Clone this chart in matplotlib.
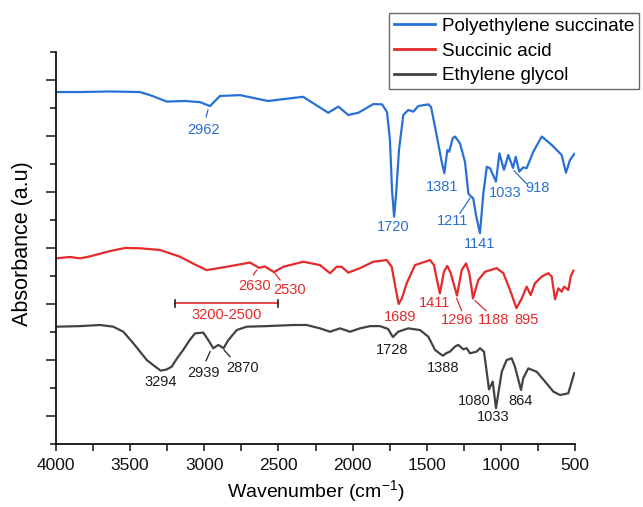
import matplotlib
matplotlib.use("Agg")
import matplotlib.pyplot as plt
import numpy as np
from matplotlib.ticker import MultipleLocator

plt.rcParams["font.family"] = ["Liberation Sans", "DejaVu Sans"]
plt.rcParams["mathtext.fontset"] = "custom"
plt.rcParams["mathtext.rm"] = "Liberation Sans"
plt.rcParams["mathtext.default"] = "regular"

# ---------------- FTIR spectra (wavenumber, absorbance a.u.) ----------------
pes_wn = [4000, 3838, 3636, 3434, 3366, 3253, 3130, 3029, 2962, 2894, 2759, 2570,
          2334, 2164, 2096, 2029, 1961, 1860, 1801, 1768, 1748, 1734, 1720, 1707,
          1687, 1658, 1624, 1590, 1557, 1489, 1471, 1444, 1399, 1381, 1361, 1348,
          1325, 1309, 1276, 1242, 1219, 1211, 1186, 1168, 1141, 1118, 1095, 1073,
          1033, 1010, 979, 950, 918, 900, 876, 849, 826, 781, 724, 657, 612, 590,
          561, 534, 505]
pes_abs = [1.257, 1.257, 1.259, 1.257, 1.246, 1.223, 1.225, 1.221, 1.207, 1.243,
           1.246, 1.225, 1.240, 1.183, 1.205, 1.175, 1.183, 1.214, 1.213, 1.186,
           1.086, 0.907, 0.812, 0.889, 1.050, 1.175, 1.193, 1.187, 1.207, 1.213,
           1.204, 1.133, 1.008, 0.967, 1.050, 1.044, 1.092, 1.098, 1.074, 1.008,
           0.895, 0.889, 0.877, 0.818, 0.753, 0.895, 0.990, 0.985, 0.937, 1.038,
           0.979, 1.032, 0.986, 1.026, 0.973, 0.988, 0.985, 1.044, 1.098, 1.068,
           1.044, 1.032, 0.969, 1.014, 1.036]

sa_wn = [4000, 3906, 3838, 3771, 3636, 3535, 3434, 3299, 3164, 3070, 2984, 2849,
         2692, 2630, 2591, 2530, 2467, 2332, 2220, 2152, 2107, 2073, 2029, 1950,
         1860, 1770, 1736, 1714, 1689, 1667, 1635, 1579, 1478, 1451, 1431, 1411,
         1384, 1361, 1338, 1316, 1296, 1264, 1235, 1213, 1201, 1188, 1152, 1107,
         1028, 983, 938, 895, 859, 826, 799, 770, 724, 680, 657, 635, 612, 590,
         574, 545, 529, 511]
sa_abs = [0.663, 0.668, 0.663, 0.670, 0.689, 0.700, 0.699, 0.693, 0.669, 0.643,
          0.621, 0.633, 0.648, 0.629, 0.634, 0.614, 0.633, 0.651, 0.639, 0.610,
          0.633, 0.633, 0.612, 0.628, 0.651, 0.657, 0.633, 0.568, 0.500, 0.521,
          0.574, 0.639, 0.657, 0.639, 0.586, 0.538, 0.615, 0.636, 0.610, 0.568,
          0.530, 0.621, 0.645, 0.610, 0.568, 0.520, 0.586, 0.615, 0.628, 0.610,
          0.550, 0.485, 0.520, 0.562, 0.532, 0.574, 0.598, 0.610, 0.598, 0.517,
          0.556, 0.544, 0.562, 0.550, 0.598, 0.619]

eg_wn = [4000, 3838, 3703, 3614, 3546, 3479, 3388, 3340, 3294, 3255, 3220, 3185,
         3142, 3100, 3063, 3007, 2973, 2939, 2905, 2870, 2838, 2781, 2714, 2579,
         2400, 2309, 2220, 2152, 2085, 2017, 1950, 1882, 1815, 1761, 1728, 1692,
         1624, 1545, 1489, 1444, 1399, 1388, 1370, 1343, 1309, 1287, 1253, 1230,
         1208, 1163, 1141, 1114, 1100, 1080, 1055, 1033, 1017, 994, 961, 927, 905,
         864, 849, 815, 758, 702, 646, 601, 545, 522, 505]
eg_abs = [0.419, 0.421, 0.425, 0.419, 0.401, 0.360, 0.300, 0.280, 0.262, 0.266,
          0.276, 0.305, 0.336, 0.370, 0.395, 0.398, 0.371, 0.342, 0.354, 0.342,
          0.371, 0.407, 0.419, 0.421, 0.425, 0.425, 0.413, 0.401, 0.413, 0.401,
          0.413, 0.421, 0.421, 0.411, 0.382, 0.401, 0.413, 0.407, 0.383, 0.336,
          0.318, 0.316, 0.324, 0.330, 0.348, 0.354, 0.338, 0.342, 0.324, 0.330,
          0.342, 0.330, 0.276, 0.195, 0.223, 0.128, 0.181, 0.258, 0.300, 0.306,
          0.276, 0.193, 0.235, 0.270, 0.258, 0.223, 0.187, 0.175, 0.181, 0.223,
          0.253]

series_names = ["Polyethylene succinate", "Succinic acid", "Ethylene glycol"]
line_colors = ["#2870D6", "#E42A2A", "#434343"]
text_colors = ["#2A6FD0", "#E42A2A", "#1E1E1E"]

# Peak labels: (text, x, y)
pes_labels = [("2962", 3007, 1.121), ("1720", 1725, 0.776), ("1381", 1399, 0.917),
              ("1211", 1327, 0.798), ("1141", 1141, 0.714), ("1033", 972, 0.898),
              ("918", 751, 0.913)]
sa_labels = [("2630", 2663, 0.564), ("2530", 2422, 0.550), ("1689", 1680, 0.4525),
             ("1411", 1444, 0.5025), ("1296", 1294, 0.443), ("1188", 1051, 0.443),
             ("895", 826, 0.443)]
eg_labels = [("3294", 3294, 0.2225), ("2939", 3002, 0.255), ("2870", 2741, 0.270),
             ("1728", 1736, 0.336), ("1388", 1388, 0.270), ("1080", 1181, 0.155),
             ("1033", 1051, 0.095), ("864", 866, 0.155)]

# Leader lines: ((x0, y0), (x1, y1))
pes_leaders = [((2975, 1.193), (2988, 1.168)), ((1276, 0.824), (1208, 0.878)),
               ((911, 0.976), (830, 0.931))]
sa_leaders = [((2647, 0.621), (2669, 0.604)), ((2523, 0.610), (2489, 0.586)),
              ((1298, 0.520), (1264, 0.476)), ((1174, 0.512), (1100, 0.476))]
eg_leaders = [((2961, 0.330), (2988, 0.2975)), ((2867, 0.336), (2827, 0.312))]

# O-H stretch range of the acid
range_start, range_end, range_y = 3200, 2500, 0.502

# ---------------- figure ----------------
fig = plt.figure(figsize=(6.43, 5.07), dpi=100)
ax = fig.add_axes([56 / 643, 63 / 507, 519 / 643, 392 / 507])

spectra = [(pes_wn, pes_abs), (sa_wn, sa_abs), (eg_wn, eg_abs)]
for (wn, ab), name, col in zip(spectra, series_names, line_colors):
    ax.plot(wn, ab, color=col, lw=1.6, label=name, solid_joinstyle="round")

fs_ann = 10.5
for labels, leaders, col in [(pes_labels, pes_leaders, text_colors[0]),
                             (sa_labels, sa_leaders, text_colors[1]),
                             (eg_labels, eg_leaders, text_colors[2])]:
    for t, x, y in labels:
        ax.text(x, y, t, color=col, fontsize=fs_ann, ha="center", va="center")
    for (x0, y0), (x1, y1) in leaders:
        ax.plot([x0, x1], [y0, y1], color=col, lw=0.9)

ax.plot([range_start, range_end], [range_y, range_y], color=line_colors[1], lw=1.2)
for xe in (range_start, range_end):
    ax.plot([xe, xe], [range_y - 0.014, range_y + 0.014], color="#202020", lw=1.2)
ax.text((range_start + range_end) / 2, range_y - 0.041, "3200-2500",
        color=text_colors[1], fontsize=fs_ann, ha="center", va="center")

ax.set_xlim(4000, 500)
ax.set_ylim(0, 1.4)
ax.xaxis.set_major_locator(MultipleLocator(500))
ax.xaxis.set_minor_locator(MultipleLocator(250))
ax.set_yticks(np.arange(0.1, 1.4, 0.2))
ax.set_yticks(np.arange(0.0, 1.41, 0.2), minor=True)
ax.set_yticklabels([])

for s in ("top", "right"):
    ax.spines[s].set_visible(False)
for s in ("left", "bottom"):
    ax.spines[s].set_linewidth(1.3)
    ax.spines[s].set_color("#111111")

ax.tick_params(axis="x", which="both", direction="out", length=5, width=1.1,
               labelsize=12.5, pad=5, colors="#111111")
ax.tick_params(axis="y", which="major", direction="out", length=7, width=1.1,
               colors="#111111")
ax.tick_params(axis="y", which="minor", direction="out", length=4, width=1.1,
               colors="#111111")

ax.set_xlabel("Wavenumber (cm$^{-1}$)", fontsize=14, labelpad=4)
ax.set_ylabel("Absorbance (a.u)", fontsize=15.5)
ax.yaxis.set_label_coords(-0.045, 0.51)

leg = fig.legend(loc="upper left", bbox_to_anchor=(389 / 643, 1 - 13 / 507),
                 fontsize=13.6, frameon=True, fancybox=False, handlelength=2.2,
                 handletextpad=0.35, labelspacing=0.4, borderpad=0.25,
                 borderaxespad=0)
leg.get_frame().set_edgecolor("#444444")
leg.get_frame().set_linewidth(1.0)
for ln in leg.get_lines():
    ln.set_linewidth(2.0)

fig.savefig("out.png", dpi=100)
